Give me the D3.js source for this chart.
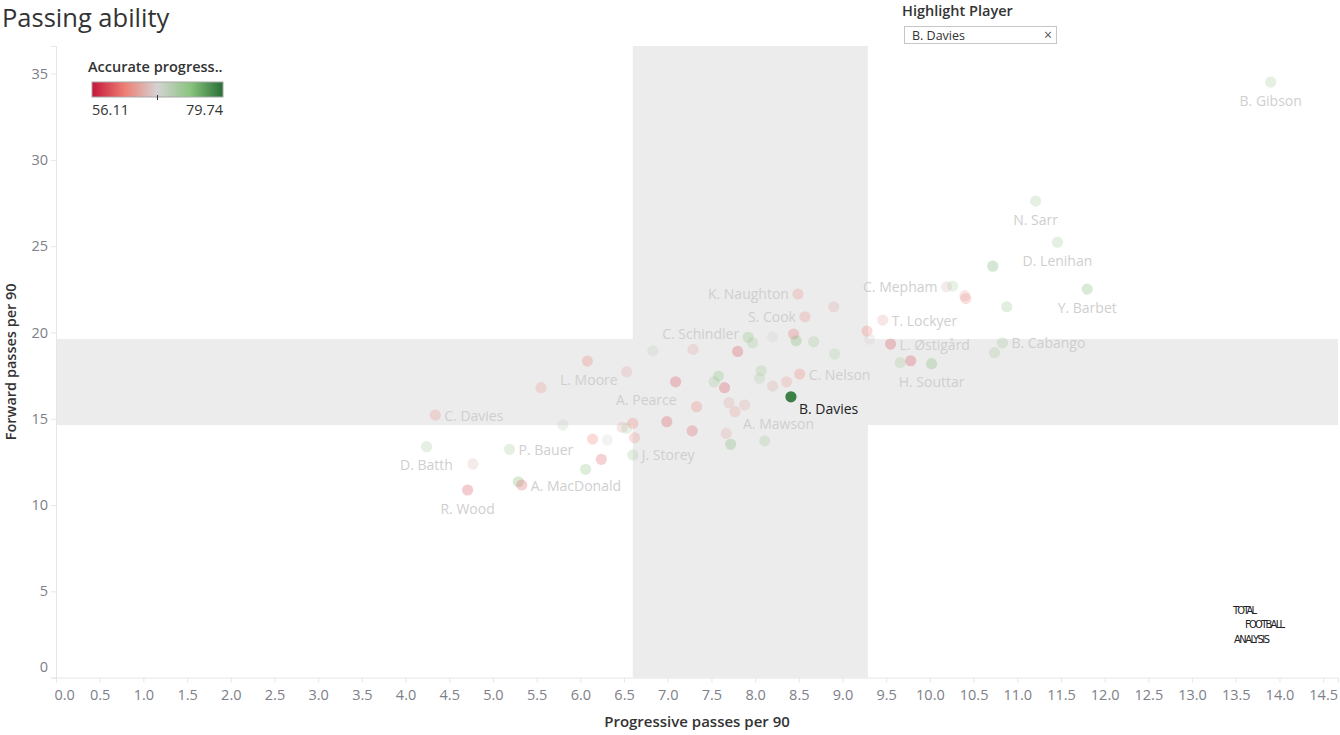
<!DOCTYPE html>
<html>
<head>
<meta charset="utf-8">
<script src="https://cdn.jsdelivr.net/npm/d3@7"></script>
<style>
  html, body { margin: 0; padding: 0; background: #fff; }
  svg { display: block; font-family: "Open Sans", "Noto Sans", sans-serif; }
</style>
</head>
<body>
<svg id="chart" width="1340" height="735"></svg>
<script>
// ---------------- DATA ----------------
const labels = [
  "B. Gibson", "N. Sarr", "D. Lenihan", "", "Y. Barbet", "C. Mepham", "", "", "", "",
  "T. Lockyer", "", "", "L. Østigård", "B. Cabango", "", "", "", "H. Souttar", "K. Naughton",
  "", "S. Cook", "", "C. Schindler", "", "", "", "", "", "",
  "", "", "", "", "", "", "", "", "C. Nelson", "B. Davies",
  "", "", "A. Mawson", "", "", "", "", "", "L. Moore", "A. Pearce",
  "", "", "", "", "", "J. Storey", "", "", "", "",
  "", "", "", "", "C. Davies", "D. Batth", "", "P. Bauer", "R. Wood", "",
  "A. MacDonald"
];
const progressivePasses = [
  13.90, 11.21, 11.46, 10.72, 11.80, 10.19, 10.26, 10.40, 10.41, 10.88,
  9.46, 9.28, 9.31, 9.55, 10.83, 10.74, 9.66, 9.78, 10.02, 8.49,
  8.90, 8.57, 7.29, 7.92, 7.97, 8.20, 8.44, 8.47, 8.67, 7.80,
  8.91, 8.07, 8.05, 7.58, 7.53, 7.65, 8.20, 8.36, 8.51, 8.41,
  7.33, 7.70, 7.77, 7.88, 7.28, 7.67, 7.72, 8.11, 6.53, 7.09,
  6.99, 6.48, 6.53, 6.60, 6.62, 6.60, 6.83, 6.08, 5.55, 5.80,
  6.14, 6.31, 6.24, 6.06, 4.34, 4.24, 4.77, 5.19, 4.71, 5.29,
  5.33
];
const forwardPasses = [
  34.51, 27.61, 25.23, 23.84, 22.51, 22.65, 22.69, 22.13, 21.96, 21.49,
  20.72, 20.08, 19.62, 19.33, 19.40, 18.83, 18.25, 18.36, 18.19, 22.23,
  21.49, 20.91, 19.02, 19.72, 19.40, 19.75, 19.91, 19.52, 19.46, 18.90,
  18.75, 17.78, 17.34, 17.47, 17.14, 16.80, 16.89, 17.14, 17.59, 16.27,
  15.70, 15.93, 15.41, 15.79, 14.30, 14.15, 13.52, 13.72, 17.72, 17.14,
  14.83, 14.50, 14.44, 14.73, 13.90, 12.90, 18.94, 18.34, 16.80, 14.63,
  13.82, 13.77, 12.65, 12.07, 15.21, 13.38, 12.38, 13.23, 10.87, 11.35,
  11.16
];
const accuracy = [
  72, 72, 72, 76, 75, 66, 71, 65, 63, 73,
  65, 62, 67.5, 59, 72, 72, 72, 59, 75, 63,
  65, 63, 65, 74, 72, 68.5, 61, 75, 72, 59,
  71, 72, 71, 74, 72, 59, 65, 64, 62, 78.5,
  62, 65, 64, 65, 60, 65, 75, 72, 65, 59,
  59, 65, 71, 62, 63, 72, 69.5, 62, 64, 69.5,
  62, 68, 60, 74, 63, 72, 66, 72, 59, 75,
  60
];
const highlighted = "B. Davies";
const xBand = [6.60, 9.29];     // progressive passes reference band
const yBand = [14.63, 19.62];   // forward passes reference band
const colorDomain = [56.11, 79.74];
const xTicks = d3.range(0, 14.51, 0.5);
const yTicks = [0, 5, 10, 15, 20, 25, 30, 35];

// -------------- LAYOUT --------------
(function () {
const svg = d3.select("#chart");
const pL = 56, pR = 1338, pT = 46, pB = 677.6;
const x = d3.scaleLinear().domain([0, 14.67]).range([pL, pR]);
const y = d3.scaleLinear().domain([0, 36.6]).range([pB, pT]);
const mid = (colorDomain[0] + colorDomain[1]) / 2;
const color = d3.scaleLinear()
  .domain([colorDomain[0], (colorDomain[0] + mid) / 2, mid, (mid + colorDomain[1]) / 2, colorDomain[1]])
  .range(["#c4163a", "#ee7f74", "#d3d3d3", "#8ac47e", "#276e36"]);

const labelSide = {
  "B. Gibson": "below", "N. Sarr": "below", "D. Lenihan": "below", "Y. Barbet": "below",
  "C. Mepham": "left", "T. Lockyer": "right", "L. Østigård": "right", "B. Cabango": "right",
  "H. Souttar": "below", "K. Naughton": "left", "S. Cook": "left", "C. Schindler": "upperLeft",
  "C. Nelson": "right", "B. Davies": "belowRight", "A. Mawson": "belowRight",
  "L. Moore": "lowerLeft", "A. Pearce": "belowLeft", "J. Storey": "right", "C. Davies": "right",
  "D. Batth": "below", "P. Bauer": "right", "R. Wood": "below", "A. MacDonald": "right"
};

// Title
svg.append("text").attr("x", 2).attr("y", 27)
  .attr("font-size", 25.5).attr("fill", "#333").text("Passing ability");

// Bands
svg.append("rect").attr("x", x(xBand[0])).attr("y", pT)
  .attr("width", x(xBand[1]) - x(xBand[0])).attr("height", pB - pT)
  .attr("fill", "#ececec");
svg.append("rect").attr("x", pL).attr("y", y(yBand[1]))
  .attr("width", pR - pL).attr("height", y(yBand[0]) - y(yBand[1]))
  .attr("fill", "#ececec");

// Axes
const xAxis = svg.append("g").attr("transform", `translate(0,${pB})`)
  .call(d3.axisBottom(x).tickValues(xTicks).tickSize(5).tickPadding(7)
    .tickFormat(d3.format(".1f")));
xAxis.select(".domain").attr("stroke", "#e6e6e6");
xAxis.selectAll(".tick line").attr("stroke", "#e6e6e6");
xAxis.selectAll(".tick text").attr("font-size", 14.5).attr("fill", "#7d8088")
  .attr("font-family", "Open Sans, sans-serif")
  .attr("text-anchor", d => d === 0 ? "start" : "middle")
  .attr("dx", d => d === 0 ? -2 : 0);

const yAxis = svg.append("g").attr("transform", `translate(${pL},0)`)
  .call(d3.axisLeft(y).tickValues(yTicks).tickSize(5).tickPadding(3));
yAxis.select(".domain").attr("stroke", "#e6e6e6");
yAxis.selectAll(".tick line").attr("stroke", "#e6e6e6");
yAxis.selectAll(".tick text").attr("font-size", 14.5).attr("fill", "#7d8088")
  .attr("font-family", "Open Sans, sans-serif")
  .attr("dy", d => d === 0 ? "-0.45em" : "0.32em");

// Axis titles
svg.append("text").attr("x", (pL + pR) / 2).attr("y", 727)
  .attr("text-anchor", "middle").attr("font-size", 15).attr("font-weight", 600)
  .attr("fill", "#333").text("Progressive passes per 90");
svg.append("text").attr("transform", `translate(16,${(pT + pB) / 2}) rotate(-90)`)
  .attr("text-anchor", "middle").attr("font-size", 14.5).attr("font-weight", 600)
  .attr("fill", "#333").text("Forward passes per 90");

// Points
const pts = labels.map((name, i) => ({
  name, px: progressivePasses[i], fy: forwardPasses[i], acc: accuracy[i]
}));
const faded = pts.filter(d => d.name !== highlighted);
const hi = pts.filter(d => d.name === highlighted);

svg.append("g").selectAll("circle").data(faded).join("circle")
  .attr("cx", d => x(d.px)).attr("cy", d => y(d.fy)).attr("r", 5.6)
  .attr("fill", d => color(d.acc)).attr("fill-opacity", 0.28);
svg.append("g").selectAll("circle").data(hi).join("circle")
  .attr("cx", d => x(d.px)).attr("cy", d => y(d.fy)).attr("r", 5.6)
  .attr("fill", d => color(d.acc));

// Labels
const place = {
  right: { dx: 9, dy: 0, anchor: "start" },
  left: { dx: -9, dy: 0, anchor: "end" },
  upperLeft: { dx: -9, dy: -4, anchor: "end" },
  lowerLeft: { dx: -9, dy: 8, anchor: "end" },
  below: { dx: 0, dy: 18, anchor: "middle" },
  belowRight: { dx: 8, dy: 12, anchor: "start" },
  belowLeft: { dx: 1, dy: 18, anchor: "end" }
};
svg.append("g").selectAll("text").data(pts.filter(d => d.name)).join("text")
  .attr("x", d => x(d.px) + place[labelSide[d.name]].dx)
  .attr("y", d => y(d.fy) + place[labelSide[d.name]].dy)
  .attr("text-anchor", d => place[labelSide[d.name]].anchor)
  .attr("dominant-baseline", "central")
  .attr("font-size", 14)
  .attr("fill", d => d.name === highlighted ? "#222" : "#cfcfcf")
  .text(d => d.name);

// Colour legend
const lg = svg.append("g");
lg.append("text").attr("x", 88).attr("y", 72).attr("font-size", 14.5).attr("font-weight", 600)
  .attr("fill", "#333").text("Accurate progress..");
const defs = svg.append("defs");
const grad = defs.append("linearGradient").attr("id", "lgGrad");
color.domain().forEach(v => {
  grad.append("stop")
    .attr("offset", (v - colorDomain[0]) / (colorDomain[1] - colorDomain[0]))
    .attr("stop-color", color(v));
});
lg.append("rect").attr("x", 92).attr("y", 82).attr("width", 131).attr("height", 15)
  .attr("fill", "url(#lgGrad)").attr("stroke", "#a8a8a8").attr("stroke-width", 1);
const lgX = d3.scaleLinear().domain(colorDomain).range([92, 223]);
lg.append("line").attr("x1", lgX(mid)).attr("x2", lgX(mid)).attr("y1", 95).attr("y2", 100)
  .attr("stroke", "#333");
lg.append("text").attr("x", 92).attr("y", 115).attr("font-size", 14.5).attr("fill", "#333")
  .text(d3.format(".2f")(colorDomain[0]));
lg.append("text").attr("x", 223).attr("y", 115).attr("text-anchor", "end")
  .attr("font-size", 14.5).attr("fill", "#333").text(d3.format(".2f")(colorDomain[1]));

// Highlight widget
svg.append("text").attr("x", 902).attr("y", 16).attr("font-size", 14.5).attr("font-weight", 600)
  .attr("fill", "#333").text("Highlight Player");
svg.append("rect").attr("x", 904.5).attr("y", 26.5).attr("width", 152).attr("height", 17)
  .attr("fill", "#fff").attr("stroke", "#c6c6c6");
svg.append("text").attr("x", 912).attr("y", 39.5).attr("font-size", 12.5).attr("fill", "#333")
  .text(highlighted);
svg.append("text").attr("x", 1048).attr("y", 39.5).attr("text-anchor", "middle")
  .attr("font-size", 14).attr("fill", "#555").text("×");

// Logo
const logo = svg.append("g").attr("font-family", "DejaVu Sans Condensed, sans-serif")
  .attr("font-size", 11).attr("fill", "#222");
logo.append("text").attr("x", 1233).attr("y", 614).attr("textLength", 24).text("TOTAL");
logo.append("text").attr("x", 1245).attr("y", 628).attr("textLength", 40).text("FOOTBALL");
logo.append("text").attr("x", 1234).attr("y", 643).attr("textLength", 36).text("ANALYSIS");
})();
</script>
</body>
</html>
